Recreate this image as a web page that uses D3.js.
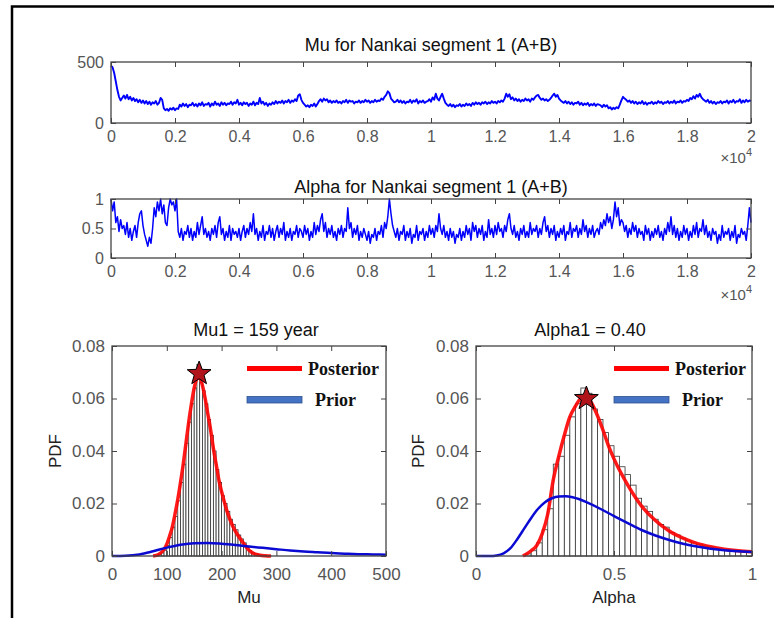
<!DOCTYPE html>
<html>
<head>
<meta charset="utf-8">
<script src="https://cdn.jsdelivr.net/npm/d3@7/dist/d3.min.js"></script>
<style>
  html, body { margin: 0; padding: 0; background: #fff; }
  svg { display: block; }
  text { font-family: Arial, "Liberation Sans", Helvetica, sans-serif; }
</style>
</head>
<body>
<svg id="fig" width="774" height="618"></svg>
<script>
// ---- MCMC chains (sampled every 50 iterations) ----
const iterStep = 50;
const muChain = [
  470,455,410,340,270,215,185,205,225,200,230,195,215,185,205,180,195,170,190,165,
  185,160,180,155,175,150,170,160,180,150,165,205,190,120,105,115,100,120,110,125,
  105,120,115,150,135,160,140,155,130,150,145,165,140,155,135,160,145,170,140,155,
  150,165,135,160,145,175,150,160,140,170,150,165,145,160,155,175,150,170,160,190,
  150,165,145,170,155,165,140,160,150,175,145,165,155,205,160,175,150,165,140,160,
  150,170,155,180,160,175,165,185,160,180,170,190,165,185,175,195,180,225,235,190,
  165,150,135,145,130,150,140,160,135,155,180,195,175,200,185,195,170,185,165,180,
  170,185,165,175,160,180,170,190,165,185,175,180,160,175,170,185,165,180,170,190,
  175,185,165,180,170,190,175,185,180,200,190,215,230,260,245,200,185,170,175,190,
  170,185,165,180,160,175,170,190,165,185,175,195,160,180,170,185,165,175,180,195,
  175,210,190,240,200,185,215,240,200,165,150,140,155,135,150,130,145,140,155,135,
  150,140,160,145,155,140,165,150,170,155,165,150,170,160,175,155,170,160,180,165,
  175,160,180,170,185,175,200,240,215,235,195,210,185,200,180,195,175,190,180,200,
  185,195,175,200,190,210,225,230,205,190,200,185,195,180,190,205,225,240,215,230,
  200,185,175,165,180,160,175,155,170,150,165,160,175,150,165,145,160,150,165,140,
  155,145,160,140,155,150,145,130,150,135,145,120,130,110,125,115,130,120,150,185,
  215,200,190,175,185,165,180,160,175,155,170,160,180,155,170,150,165,160,175,155,
  170,160,180,165,175,155,170,165,180,160,175,165,185,160,175,170,185,165,180,175,
  190,180,205,195,220,200,230,215,240,210,195,185,175,190,165,180,160,175,155,170,
  165,180,160,175,170,185,160,180,170,190,165,180,175,195,165,185,170,190,175,185,
  180
];
const alphaChain = [
  1.00,0.80,0.95,0.60,0.70,0.45,0.65,0.50,0.55,0.40,0.60,0.35,0.50,0.30,0.45,0.55,0.35,0.60,0.75,0.80,
  0.55,0.40,0.30,0.20,0.35,0.25,0.50,0.85,0.70,0.95,0.80,1.00,0.75,0.90,0.60,0.55,0.85,1.00,0.90,0.95,
  0.80,1.00,0.45,0.35,0.50,0.30,0.45,0.40,0.55,0.35,0.50,0.30,0.45,0.35,0.60,0.40,0.55,0.70,0.40,0.50,
  0.35,0.45,0.30,0.50,0.40,0.55,0.35,0.60,0.70,0.40,0.50,0.30,0.45,0.35,0.55,0.30,0.50,0.40,0.45,0.35,
  0.50,0.30,0.45,0.55,0.35,0.50,0.40,0.60,0.45,0.75,0.40,0.50,0.30,0.45,0.35,0.55,0.30,0.45,0.40,0.55,
  0.35,0.50,0.30,0.45,0.55,0.35,0.50,0.40,0.60,0.30,0.45,0.35,0.50,0.30,0.45,0.40,0.55,0.35,0.50,0.45,
  0.35,0.55,0.40,0.50,0.30,0.45,0.35,0.60,0.40,0.55,0.45,0.65,0.75,0.45,0.60,0.35,0.50,0.40,0.55,0.35,
  0.45,0.30,0.50,0.40,0.55,0.35,0.50,0.45,0.85,0.50,0.60,0.35,0.50,0.40,0.55,0.30,0.45,0.35,0.50,0.40,
  0.30,0.45,0.25,0.40,0.35,0.50,0.30,0.45,0.40,0.55,0.35,0.60,0.50,0.70,1.00,0.75,0.55,0.45,0.35,0.50,
  0.30,0.45,0.40,0.55,0.30,0.45,0.35,0.50,0.25,0.40,0.35,0.55,0.30,0.45,0.40,0.50,0.30,0.45,0.35,0.55,
  0.40,0.50,0.35,0.55,0.45,0.75,0.50,0.40,0.55,0.35,0.45,0.30,0.50,0.35,0.45,0.25,0.40,0.35,0.50,0.30,
  0.45,0.35,0.55,0.40,0.50,0.30,0.60,0.45,0.55,0.35,0.50,0.40,0.55,0.30,0.45,0.35,0.65,0.40,0.50,0.35,
  0.55,0.40,0.60,0.45,0.50,0.35,0.55,0.45,0.65,0.75,0.50,0.40,0.55,0.35,0.45,0.30,0.50,0.40,0.55,0.35,
  0.45,0.35,0.60,0.40,0.50,0.45,0.55,0.35,0.50,0.40,0.60,0.70,0.45,0.55,0.35,0.50,0.40,0.55,0.30,0.45,
  0.35,0.50,0.40,0.55,0.30,0.45,0.40,0.60,0.35,0.50,0.45,0.55,0.35,0.50,0.40,0.65,0.45,0.55,0.35,0.50,
  0.40,0.55,0.35,0.45,0.50,0.40,0.60,0.50,0.65,0.55,0.75,0.60,0.70,0.50,0.65,0.95,0.70,0.85,0.55,0.65,
  0.60,0.45,0.55,0.35,0.50,0.40,0.60,0.45,0.55,0.35,0.50,0.40,0.45,0.30,0.55,0.40,0.50,0.30,0.45,0.35,
  0.50,0.40,0.55,0.35,0.45,0.30,0.50,0.40,0.60,0.45,0.70,0.40,0.55,0.35,0.50,0.30,0.45,0.35,0.55,0.40,
  0.50,0.30,0.45,0.35,0.55,0.40,0.60,0.35,0.50,0.45,0.65,0.40,0.55,0.35,0.45,0.30,0.50,0.40,0.45,0.25,
  0.40,0.30,0.55,0.35,0.45,0.40,0.50,0.30,0.45,0.35,0.55,0.25,0.40,0.35,0.50,0.40,0.45,0.30,0.55,0.85,
  0.60
];
const iterTicks = [0,2000,4000,6000,8000,10000,12000,14000,16000,18000,20000];
const iterTickLabels = ["0","0.2","0.4","0.6","0.8","1","1.2","1.4","1.6","1.8","2"];

// ---- Mu posterior histogram (probability per 5-year bin) ----
const muBinStart = [80,85,90,95,100,105,110,115,120,125,130,135,140,145,150,155,160,165,170,175,
                    180,185,190,195,200,205,210,215,220,225,230,235,240,245,250,255,260,265,270,275,280,285];
const muBinWidth = 5;
const muBinProb = [0.0003,0.0006,0.0012,0.0022,0.004,0.007,0.011,0.015,0.021,0.028,0.035,0.043,0.051,0.058,0.064,0.073,0.066,0.063,0.058,0.052,
                   0.046,0.040,0.033,0.028,0.023,0.020,0.017,0.014,0.012,0.010,0.008,0.0065,0.005,0.0032,0.002,0.0012,0.0008,0.0005,0.0003,0.0002,0.0001,0.0001];
const muPostX = [75,85,95,100,105,110,115,120,125,130,135,140,145,150,155,160,165,170,175,180,185,190,195,200,210,220,230,240,250,260,270,280,290];
const muPostY = [0,0.0006,0.0025,0.0045,0.0075,0.011,0.016,0.0215,0.028,0.035,0.043,0.051,0.058,0.064,0.0675,0.068,0.065,0.060,0.054,0.048,0.041,0.035,0.029,0.0245,0.017,0.0115,0.0078,0.0048,0.0022,0.0008,0.0003,0.0001,0];
const muPriorX = [0,25,50,75,100,125,150,175,200,225,250,275,300,325,350,375,400,425,450,475,500];
const muPriorY = [0,0.0001,0.0006,0.0018,0.0032,0.0043,0.0049,0.0050,0.0047,0.0042,0.0036,0.0031,0.0026,0.0021,0.0017,0.0014,0.0011,0.0009,0.0007,0.0006,0.0005];
const muBest = 159, muBestPdf = 0.0695;
const muTicks = [0,100,200,300,400,500];

// ---- Alpha posterior histogram (probability per 0.02 bin) ----
const alphaBinStart = [0.18,0.20,0.22,0.24,0.26,0.28,0.30,0.32,0.34,0.36,0.38,0.40,0.42,0.44,0.46,0.48,0.50,0.52,0.54,0.56,0.58,
                       0.60,0.62,0.64,0.66,0.68,0.70,0.72,0.74,0.76,0.78,0.80,0.82,0.84,0.86,0.88,0.90,0.92,0.94,0.96,0.98];
const alphaBinWidth = 0.02;
const alphaBinProb = [0.0008,0.002,0.005,0.010,0.018,0.035,0.038,0.046,0.053,0.058,0.064,0.062,0.056,0.052,0.047,0.042,0.038,0.034,0.031,0.027,0.022,
                      0.019,0.017,0.014,0.012,0.011,0.009,0.008,0.0068,0.0058,0.005,0.0045,0.0038,0.0034,0.003,0.0026,0.0024,0.002,0.0019,0.0016,0.0015];
const alphaPostX = [0.17,0.20,0.22,0.24,0.26,0.28,0.30,0.32,0.34,0.36,0.38,0.40,0.42,0.44,0.46,0.48,0.50,0.55,0.60,0.65,0.70,0.75,0.80,0.85,0.90,0.95,1.00];
const alphaPostY = [0,0.002,0.004,0.0085,0.016,0.029,0.038,0.046,0.053,0.057,0.060,0.0605,0.058,0.0535,0.048,0.042,0.037,0.027,0.019,0.0135,0.0095,0.0068,0.0048,0.0035,0.0026,0.002,0.0016];
const alphaPriorX = [0,0.05,0.075,0.10,0.125,0.15,0.175,0.20,0.225,0.25,0.275,0.30,0.325,0.35,0.375,0.40,0.45,0.50,0.55,0.60,0.65,0.70,0.75,0.80,0.85,0.90,0.95,1.00];
const alphaPriorY = [0,0,0.0002,0.001,0.003,0.0065,0.0105,0.0145,0.018,0.0205,0.022,0.0227,0.0228,0.0224,0.0216,0.0205,0.018,0.0152,0.0125,0.0099,0.0078,0.0061,0.0047,0.0036,0.0028,0.0022,0.0018,0.0015];
const alphaBest = 0.40, alphaBestPdf = 0.060;
const alphaTicks = [0,0.5,1];
const alphaTickLabels = ["0","0.5","1"];

const pdfTicks = [0,0.02,0.04,0.06,0.08];
const pdfTickLabels = ["0","0.02","0.04","0.06","0.08"];

const svg = d3.select("#fig");
const AX = "#444", LBL = "#555";

// page frame
svg.append("path").attr("d","M774,6.5 H12 V618").attr("fill","none").attr("stroke","#000").attr("stroke-width",2.5);

// MATLAB-like boxed axes with inward ticks on all sides
function boxAxes(g, x, y, xt, xl, yt, yl, fs, pad) {
  const [x0,x1] = x.range(), [y1,y0] = y.range();
  const bottom = g.append("g").attr("transform",`translate(0,${y1})`)
    .call(d3.axisBottom(x).tickValues(xt).tickFormat((d,i)=>xl[i]).tickSizeInner(-5).tickSizeOuter(0).tickPadding(pad));
  const top = g.append("g").attr("transform",`translate(0,${y0})`)
    .call(d3.axisTop(x).tickValues(xt).tickFormat("").tickSizeInner(-5).tickSizeOuter(0));
  const left = g.append("g").attr("transform",`translate(${x0},0)`)
    .call(d3.axisLeft(y).tickValues(yt).tickFormat((d,i)=>yl[i]).tickSizeInner(-5).tickSizeOuter(0).tickPadding(7));
  const right = g.append("g").attr("transform",`translate(${x1},0)`)
    .call(d3.axisRight(y).tickValues(yt).tickFormat("").tickSizeInner(-5).tickSizeOuter(0));
  [bottom,top,left,right].forEach(a => {
    a.select(".domain").remove();
    a.selectAll(".tick line").attr("stroke",AX).attr("stroke-width",1);
    a.selectAll("text").attr("fill",LBL).style("font-size",fs+"px").style("font-family","Arial, 'Liberation Sans', sans-serif");
  });
  g.append("rect").attr("x",x0).attr("y",y0).attr("width",x1-x0).attr("height",y1-y0)
    .attr("fill","none").attr("stroke",AX).attr("stroke-width",1.3);
}

function title(txt, cx, cy, fs) {
  svg.append("text").attr("x",cx).attr("y",cy).attr("text-anchor","middle").attr("dy","0.35em")
    .style("font-size",fs+"px").attr("fill","#111").text(txt);
}

function expLabel(xr, yb) {
  const t = svg.append("text").attr("x",xr).attr("y",yb).attr("text-anchor","end").attr("fill",LBL).style("font-size","15px");
  t.append("tspan").text("\u00d710");
  t.append("tspan").attr("dy",-7).style("font-size","11px").text("4");
}

// ---- trace plots ----
function tracePanel(chain, yDom, yt, yl, top, bot, ttl, ttlY, expY, sw) {
  const x = d3.scaleLinear().domain([0,20000]).range([111,751]);
  const y = d3.scaleLinear().domain(yDom).range([bot,top]);
  const g = svg.append("g");
  const line = d3.line().x((d,i)=>x(i*iterStep)).y(d=>y(d));
  g.append("path").datum(chain).attr("d",line).attr("fill","none").attr("stroke","#0000ff").attr("stroke-width",sw).attr("stroke-linejoin","round");
  boxAxes(g, x, y, iterTicks, iterTickLabels, yt, yl, 16, 8);
  title(ttl, 431, ttlY, 18);
  expLabel(752, expY);
}
tracePanel(muChain, [0,500], [0,500], ["0","500"], 62, 123, "Mu for Nankai segment 1 (A+B)", 45, 163, 1.9);
tracePanel(alphaChain, [0,1], [0,0.5,1], ["0","0.5","1"], 199, 258, "Alpha for Nankai segment 1 (A+B)", 187, 300, 1.5);

// ---- posterior histograms ----
function starPath(cx, cy, R, r) {
  const pts = [];
  for (let k = 0; k < 10; k++) {
    const a = -Math.PI/2 + k*Math.PI/5, rr = k%2 ? r : R;
    pts.push([cx + rr*Math.cos(a), cy + rr*Math.sin(a)]);
  }
  return "M" + pts.map(p=>p.join(",")).join("L") + "Z";
}

function histPanel(o) {
  const x = d3.scaleLinear().domain(o.xDom).range([o.x0,o.x1]);
  const y = d3.scaleLinear().domain([0,0.08]).range([556,346]);
  const g = svg.append("g");
  g.selectAll("rect.bin").data(o.binStart).join("rect").attr("class","bin")
    .attr("x",d=>x(d)).attr("width",d=>x(d+o.binW)-x(d))
    .attr("y",(d,i)=>y(o.binP[i])).attr("height",(d,i)=>y(0)-y(o.binP[i]))
    .attr("fill","#fff").attr("stroke","#333").attr("stroke-width",0.8);
  const curve = (xs) => d3.line().x((d,i)=>x(xs[i])).y(d=>y(d)).curve(d3.curveMonotoneX);
  g.append("path").datum(o.postY).attr("d",curve(o.postX)).attr("fill","none")
    .attr("stroke","#ff0000").attr("stroke-width",3.5).attr("stroke-opacity",0.9);
  g.append("path").datum(o.priorY).attr("d",curve(o.priorX)).attr("fill","none")
    .attr("stroke","#0a0ad2").attr("stroke-width",2.5);
  g.append("path").attr("d",starPath(x(o.best), y(o.bestPdf), 12.5, 5.2))
    .attr("fill","#b0141a").attr("stroke","#000").attr("stroke-width",1);
  boxAxes(g, x, y, o.xt, o.xl, pdfTicks, pdfTickLabels, 17, 12);
  title(o.title, o.tx, 330, 18);
  svg.append("text").attr("x",(o.x0+o.x1)/2).attr("y",597).attr("dy","0.35em").attr("text-anchor","middle")
    .style("font-size","17px").attr("fill","#222").text(o.xlab);
  svg.append("text").attr("transform",`translate(${o.ylx},451) rotate(-90)`).attr("dy","0.35em").attr("text-anchor","middle")
    .style("font-size","17px").attr("fill","#222").text("PDF");
  // legend
  const lg = svg.append("g");
  const serif = "'Liberation Serif','Times New Roman',serif";
  lg.append("line").attr("x1",o.lx).attr("x2",o.lx+55).attr("y1",368.5).attr("y2",368.5).attr("stroke","#ff0000").attr("stroke-width",5);
  lg.append("text").attr("x",o.lx+61).attr("y",368.5).attr("dy","0.35em").text("Posterior")
    .style("font-family",serif).style("font-weight","bold").style("font-size","18px").attr("fill","#111");
  lg.append("rect").attr("x",o.lx).attr("y",396.5).attr("width",55).attr("height",6.5).attr("fill","#4472c4").attr("stroke","#2f528f").attr("stroke-width",0.8);
  lg.append("text").attr("x",o.lx+68).attr("y",400).attr("dy","0.35em").text("Prior")
    .style("font-family",serif).style("font-weight","bold").style("font-size","18px").attr("fill","#111");
}

histPanel({xDom:[0,500], x0:112, x1:386, binStart:muBinStart, binW:muBinWidth, binP:muBinProb,
  postX:muPostX, postY:muPostY, priorX:muPriorX, priorY:muPriorY, best:muBest, bestPdf:muBestPdf,
  xt:muTicks, xl:muTicks.map(String), title:"Mu1 = 159 year", tx:256, xlab:"Mu", ylx:55, lx:247});
histPanel({xDom:[0,1], x0:476, x1:752, binStart:alphaBinStart, binW:alphaBinWidth, binP:alphaBinProb,
  postX:alphaPostX, postY:alphaPostY, priorX:alphaPriorX, priorY:alphaPriorY, best:alphaBest, bestPdf:alphaBestPdf,
  xt:alphaTicks, xl:alphaTickLabels, title:"Alpha1 = 0.40", tx:590, xlab:"Alpha", ylx:418, lx:614});
</script>
</body>
</html>
